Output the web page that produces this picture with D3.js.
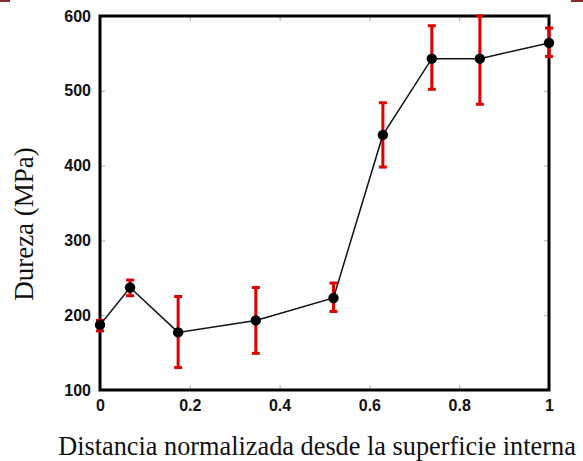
<!DOCTYPE html>
<html>
<head>
<meta charset="utf-8">
<script src="https://cdn.jsdelivr.net/npm/d3@7"></script>
<style>
  body { margin: 0; background: #fff; }
  .tick text { font-family: "Liberation Sans", Arial, sans-serif; font-weight: bold; font-size: 16px; fill: #111; }
  .title { font-family: "Liberation Serif", "Times New Roman", serif; font-size: 26.3px; fill: #111; }
</style>
</head>
<body>
<svg id="graf" width="583" height="461"></svg>
<script>
// distancia normalizada y dureza (MPa)
const distancia = [0, 0.067, 0.174, 0.347, 0.52, 0.63, 0.739, 0.846, 1.0];
const dureza    = [187, 237, 177, 193, 223, 441, 543, 543, 564];
const errSup    = [193, 247, 225, 237, 243, 484, 587, 600, 584];
const errInf    = [179, 226, 130, 149, 205, 398, 502, 482, 546];

const xTicks = [0, 0.2, 0.4, 0.6, 0.8, 1];
const yTicks = [100, 200, 300, 400, 500, 600];

const svg = d3.select("#graf");
const mLeft = 100, mRight = 549, mTop = 16, mBottom = 390;

const x = d3.scaleLinear().domain([0, 1]).range([mLeft, mRight]);
const y = d3.scaleLinear().domain([100, 600]).range([mBottom, mTop]);

// ticks pequeños hacia dentro
function tickStyle(g) {
    g.select(".domain").remove();
    g.selectAll(".tick line").attr("stroke", "#aaa").attr("stroke-width", 1);
}

svg.append("g")
    .attr("transform", `translate(0,${mBottom})`)
    .call(d3.axisBottom(x).tickValues(xTicks).tickFormat(d3.format("")).tickSizeInner(-5).tickPadding(10))
    .call(tickStyle);
svg.append("g")
    .attr("transform", `translate(0,${mTop})`)
    .call(d3.axisTop(x).tickValues(xTicks).tickFormat("").tickSizeInner(-5))
    .call(tickStyle);
svg.append("g")
    .attr("transform", `translate(${mLeft},0)`)
    .call(d3.axisLeft(y).tickValues(yTicks).tickSizeInner(-5).tickPadding(9))
    .call(tickStyle);
svg.append("g")
    .attr("transform", `translate(${mRight},0)`)
    .call(d3.axisRight(y).tickValues(yTicks).tickFormat("").tickSizeInner(-5))
    .call(tickStyle);

// marco
svg.append("rect")
    .attr("x", mLeft).attr("y", mTop)
    .attr("width", mRight - mLeft).attr("height", mBottom - mTop)
    .attr("fill", "none").attr("stroke", "#000").attr("stroke-width", 3);

const puntos = distancia.map((d, i) => ({x: d, y: dureza[i], hi: errSup[i], lo: errInf[i]}));

// barras de error
const err = svg.append("g").attr("stroke", "#e00000").attr("stroke-width", 3);
err.selectAll(".v").data(puntos).enter().append("line")
    .attr("x1", d => x(d.x)).attr("x2", d => x(d.x))
    .attr("y1", d => y(d.hi)).attr("y2", d => y(d.lo));
err.selectAll(".t").data(puntos).enter().append("line")
    .attr("x1", d => x(d.x) - 4).attr("x2", d => x(d.x) + 4)
    .attr("y1", d => y(d.hi)).attr("y2", d => y(d.hi));
err.selectAll(".b").data(puntos).enter().append("line")
    .attr("x1", d => x(d.x) - 4).attr("x2", d => x(d.x) + 4)
    .attr("y1", d => y(d.lo)).attr("y2", d => y(d.lo));

// línea
svg.append("path")
    .datum(puntos)
    .attr("fill", "none").attr("stroke", "#111").attr("stroke-width", 1.5)
    .attr("d", d3.line().x(d => x(d.x)).y(d => y(d.y)));

svg.selectAll("circle").data(puntos).enter().append("circle")
    .attr("cx", d => x(d.x)).attr("cy", d => y(d.y)).attr("r", 5.2)
    .attr("fill", "#000");

// títulos
svg.append("text").attr("class", "title")
    .attr("x", 317).attr("y", 455).attr("text-anchor", "middle")
    .text("Distancia normalizada desde la superficie interna");
svg.append("text").attr("class", "title")
    .style("font-size", "27px")
    .attr("transform", "translate(33,224) rotate(-90)").attr("text-anchor", "middle")
    .text("Dureza (MPa)");

// marcas rojas en las esquinas
svg.append("rect").attr("x", 0).attr("y", 0).attr("width", 10).attr("height", 2).attr("fill", "#8b2a2a");
svg.append("rect").attr("x", 571).attr("y", 0).attr("width", 12).attr("height", 2).attr("fill", "#8b2a2a");
</script>
</body>
</html>
